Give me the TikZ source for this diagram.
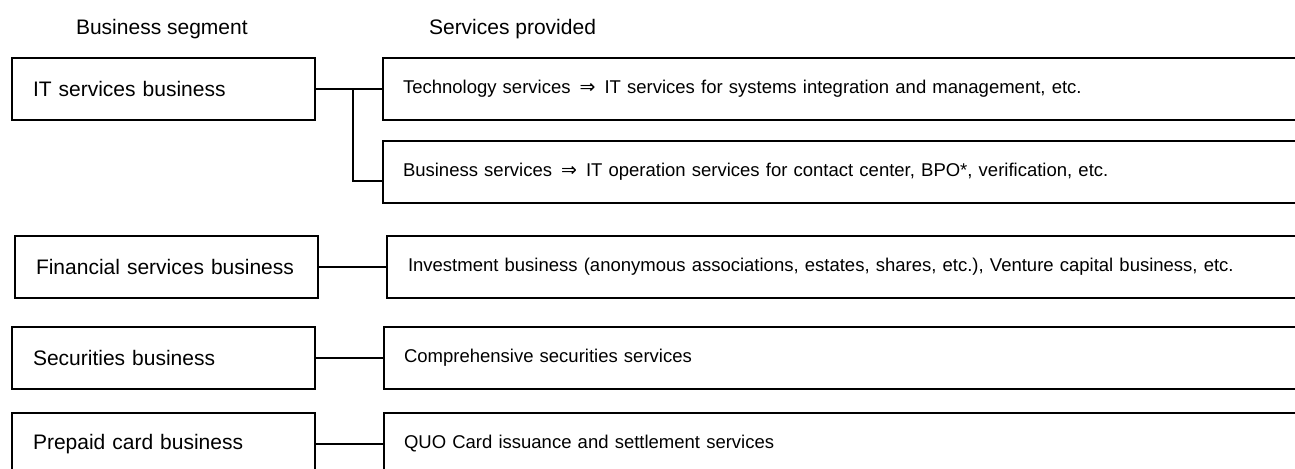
\documentclass[tikz,border=0pt]{standalone}
\usepackage{fontspec}
\setmainfont{Liberation Sans}
\newfontfamily\arrowfont{DejaVu Sans}
\newcommand{\impl}{\hspace{4.5pt}{\arrowfont\fontsize{9.5}{10}\selectfont ⇒}\hspace{4.5pt}}

\begin{document}
\begin{tikzpicture}[x=0.5pt, y=-0.5pt,
		segbox/.style={draw, line width=1pt, anchor=north west, inner xsep=10.5pt, text width=130.5pt, align=left, minimum height=31pt, font=\fontsize{10.5}{12}\selectfont},
		servbox/.style={draw, line width=1pt, anchor=north west, inner xsep=10pt, text width=450pt, align=left, minimum height=31pt, font=\fontsize{9.25}{11}\selectfont},
		link/.style={line width=0.8pt}]
	\useasboundingbox (0,0) rectangle (1295,469);
	\clip (0,0) rectangle (1295,469);
	\node[anchor=base west, font=\fontsize{10.5}{12}\selectfont] (seghead) at (69,35) {Business segment};
	\node[anchor=base west, font=\fontsize{10.5}{12}\selectfont] (servhead) at (422,35) {Services provided};
	\node[segbox] (it) at (11,57) {IT services business};
	\node[segbox] (fin) at (14,235) {Financial services business};
	\node[segbox] (sec) at (11,326) {Securities business};
	\node[segbox] (pre) at (11,412) {Prepaid card business};
	\node[servbox] (tech) at (382,57) {Technology services\impl IT services for systems integration and management, etc.};
	\node[servbox] (bus) at (382,140) {Business services\impl IT operation services for contact center, BPO*, verification, etc.};
	\node[servbox, inner xsep=10.5pt] (inv) at (386,235) {Investment business (anonymous associations, estates, shares, etc.), Venture capital business, etc.};
	\node[servbox] (comp) at (383,326) {Comprehensive securities services};
	\node[servbox] (quo) at (383,412) {QUO Card issuance and settlement services};
	\coordinate (jn) at ([xshift=18.5pt]it.east);
	\draw[link] (it.east) -- (tech.west);
	\draw[link] (jn) |- ([yshift=-4.5pt]bus.west);
	\draw[link] (fin.east) -- (inv.west);
	\draw[link] (sec.east) -- (comp.west);
	\draw[link] (pre.east) -- (quo.west);
\end{tikzpicture}
\end{document}
